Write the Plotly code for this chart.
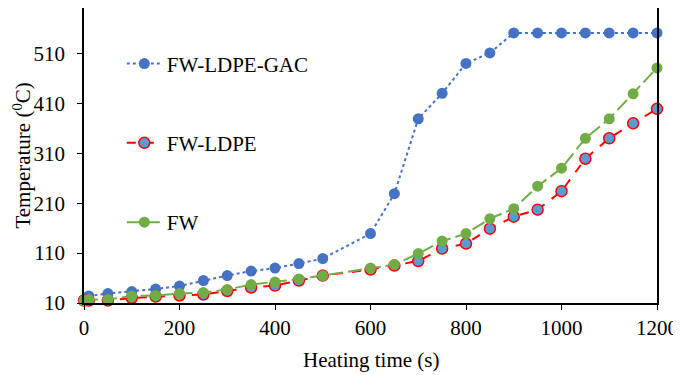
import plotly.graph_objects as go

time_s = [0, 10, 50, 100, 150, 200, 250, 300, 350, 400, 450, 500,
          600, 650, 700, 750, 800, 850, 900, 950, 1000, 1050, 1100, 1150, 1200]
fw_ldpe_gac = [16, 24, 29, 33, 38, 44, 55, 65, 74, 80, 89, 99,
               149, 229, 379, 430, 490, 511, 551, 551, 551, 551, 551, 551, 551]
fw_ldpe = [15, 15, 15, 20, 23, 25, 27, 34, 41, 45, 55, 65,
           77, 85, 94, 119, 129, 159, 183, 197, 234, 299, 340, 370, 399]
fw = [15, 17, 17, 24, 25, 29, 31, 37, 47, 52, 58, 65,
      80, 87, 109, 134, 149, 179, 199, 244, 280, 340, 379, 429, 481]
y_ticks = [10, 110, 210, 310, 410, 510]
x_ticks = [0, 200, 400, 600, 800, 1000, 1200]

font = "Liberation Serif, Times New Roman, serif"
fs = 21

fig = go.Figure()
fig.add_trace(go.Scatter(
    x=time_s, y=fw_ldpe_gac, name="FW-LDPE-GAC", mode="lines+markers",
    line=dict(color="#4472C4", width=2, dash="dot"),
    marker=dict(color="#4472C4", size=11), legendgroup="a"))
fig.add_trace(go.Scatter(
    x=time_s, y=fw_ldpe, name="FW-LDPE", mode="lines+markers",
    line=dict(color="#FF0000", width=2, dash="dash"),
    marker=dict(color="#5B9BD5", size=11, line=dict(color="#FF0000", width=1.5)),
    legendgroup="b"))
fig.add_trace(go.Scatter(
    x=time_s, y=fw, name="FW", mode="lines+markers",
    line=dict(color="#70AD47", width=2, dash="14px,5px"),
    marker=dict(color="#70AD47", size=11), legendgroup="c"))

fig.update_traces(cliponaxis=False)

fig.update_layout(
    template="none",
    width=673, height=367,
    margin=dict(l=76, r=24, t=0, b=72),
    paper_bgcolor="white", plot_bgcolor="white",
    font=dict(family=font, size=fs, color="black"),
    showlegend=True,
    legend=dict(x=0.066, y=0.88, xanchor="left", yanchor="top",
                bgcolor="rgba(0,0,0,0)", tracegroupgap=49, itemwidth=35,
                font=dict(family=font, size=fs, color="black")),
    xaxis=dict(range=[0, 1200], tickvals=x_ticks, showgrid=False, zeroline=False,
               automargin=False,
               showline=True, linecolor="black", linewidth=1.5, mirror=True,
               ticks="outside", ticklen=5, tickcolor="black",
               tickfont=dict(family=font, size=fs)),
    yaxis=dict(range=[10, 601], tickvals=y_ticks, showgrid=False, zeroline=False,
               automargin=False, ticklabelstandoff=8,
               showline=True, linecolor="black", linewidth=1.5, mirror=True,
               ticks="outside", ticklen=5, tickcolor="black",
               tickfont=dict(family=font, size=fs)),
    annotations=[
        dict(text="Heating time (s)", xref="paper", yref="paper", x=0.5, y=-0.193,
             xanchor="center", yanchor="middle", showarrow=False,
             font=dict(family=font, size=fs)),
        dict(text="Temperature (<sup>0</sup>C)", xref="paper", yref="paper",
             x=-0.108, y=0.5, xanchor="center", yanchor="middle", textangle=-90,
             showarrow=False, font=dict(family=font, size=fs)),
    ],
)

fig.write_html("out.html")
